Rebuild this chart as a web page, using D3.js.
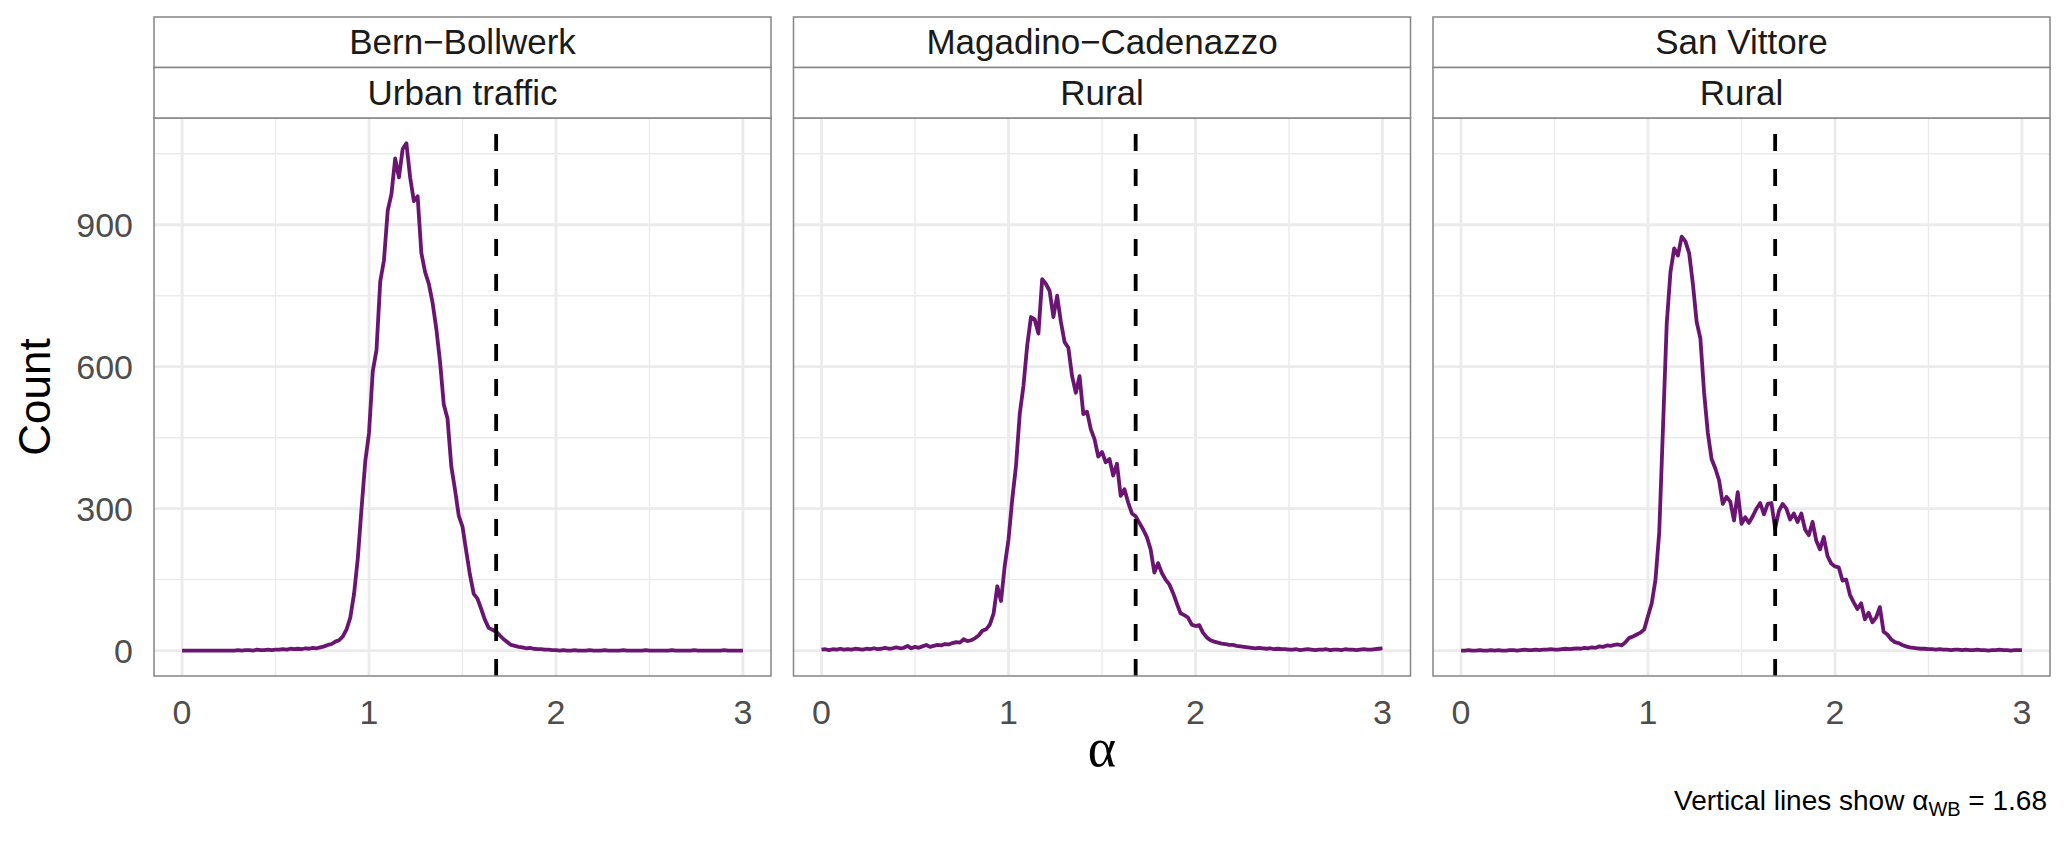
<!DOCTYPE html>
<meta charset="utf-8">
<script src="https://d3js.org/d3.v7.min.js"></script>

<style>
body {margin: 0; background: white;}
svg {font-family: "Liberation Sans", Arial, sans-serif;}
.grid line {stroke: #ebebeb;}
.grid .major {stroke-width: 2.8px;}
.grid .minor {stroke-width: 1.4px;}
.frame {fill: none; stroke: #858585; stroke-width: 1.5px;}
.strip text {font-size: 35px; fill: #1a1a1a; text-anchor: middle;}
.tick-label {font-size: 34px; fill: #4d4d4d;}
.curve {fill: none; stroke: #6a1571; stroke-width: 3.8px; stroke-linejoin: round;}
.vline {stroke: black; stroke-width: 3.8px; stroke-dasharray: 17,18;}
</style>

<svg width="2067" height="843"></svg>

<script>
// stations and site types shown in the two strip rows
var stations = ["Bern\u2212Bollwerk", "Magadino\u2212Cadenazzo", "San Vittore"];
var siteTypes = ["Urban traffic", "Rural", "Rural"];

// bin centres of the alpha counts, 0 to 3 in steps of 0.02
var alphaBins = d3.range(151).map(function(i) { return i / 50; });

var countsBern = [
  0,0,0,0,0,0,0,0,0,0,0,0,0,0,0,
  1,0,1,1,0,2,1,1,2,1,2,
  2,3,2,4,3,4,3,5,4,6, 5,7,9,12,14,19,22,30,45,70, 120,195,300,400,
  460,590,635,780,825,930,965,1040,1000,1060, 1072,1000,950,960,840,800,775,735,680,610, 520,490,390,340,285,
  262,210,160,120,110,88,65,48,44,40, 32,24,18,12,10,8,7,5,6,4, 3,3,2,2,1,1,
  0,1,0,0,1,0,0,0,1,0, 0,0,1,0,0,0,0,1,0,0, 0,0,0,1,0,0,0,0,0,0, 1,0,0,0,0,0,1,0,0,0, 0,0,0,0,1,0,0,0,0,0
];

var countsMagadino = [
  2,3,1,3,2,4,2,3,2,4, 3,2,4,3,5,3,4,6,4,5, 7,5,6,10,5,8,
  6,9,12,8,10,12,11,14,13,16, 18,17,24,20,22,26,32,42,45,55, 78,136,105,180,
  235,320,390,500,560,645,705,700,670,785, 775,760,705,750,695,652,640,580,545,580, 500,505,468,447,410,
  420,398,405,370,395,327,341,313,290,284, 270,256,240,214,165,185,164,150,140,122, 100,79,75,70,55,52,
  54,38,28,22,19,17,15,14,12,12, 10,9,8,7,6,5,6,5,4,5, 3,4,3,3,2,
  2,3,1,2,3,2,1,2,2,3, 1,2,2,1,3,2,2,1,2,3, 2,2,3,4,5
];

var countsSanVittore = [
  0,0,1,0,0,1,0,0,1,0, 1,0,0,1,1,0,1,2,1,1, 2,1,2,2,3,2,
  2,3,4,3,4,5,4,6,5,7, 6,9,8,11,10,12,13,11,18,27, 30,34,38,45,
  73,100,150,250,470,690,800,850,835,875, 865,840,775,695,660,545,460,405,385,360, 310,325,315,275,335,
  268,282,270,284,300,312,288,310,312,258, 295,310,300,277,290,272,290,256,244,272, 232,214,240,200,184,178,
  176,148,150,118,102,88,100,66,80,60, 70,92,40,34,24,18,16,12,9,7, 6,5,4,4,3,
  3,2,3,2,2,1,2,2,1,2, 1,1,2,1,1,0,1,1,2,1, 1,0,1,1,1
];

var seriesCounts = [countsBern, countsMagadino, countsSanVittore];

var alphaWB = 1.68;
var xMajor = [0, 1, 2, 3], xMinor = [0.5, 1.5, 2.5];
var yMajor = [0, 300, 600, 900], yMinor = [150, 450, 750, 1050];

var svg = d3.select("svg");

var panelLeft = 154, panelW = 617, panelGap = 22.5;
var stripTop = 17, stripH = 50.5;
var plotTop = stripTop + 2 * stripH, plotBottom = 676;

var yMax = d3.max(seriesCounts, function(s) { return d3.max(s); });
var y = d3.scaleLinear()
    .domain([-0.05 * yMax, 1.05 * yMax])
    .range([plotBottom, plotTop]);

var line = d3.line();

stations.forEach(function(name, i) {
  var x0 = panelLeft + i * (panelW + panelGap);
  var x = d3.scaleLinear()
      .domain([-0.15, 3.15])
      .range([x0, x0 + panelW]);

  var g = svg.append("g");

  var grid = g.append("g").attr("class", "grid");
  grid.selectAll(".ym").data(yMinor).enter().append("line")
      .attr("class", "minor")
      .attr("x1", x0).attr("x2", x0 + panelW)
      .attr("y1", y).attr("y2", y);
  grid.selectAll(".xm").data(xMinor).enter().append("line")
      .attr("class", "minor")
      .attr("x1", x).attr("x2", x)
      .attr("y1", plotTop).attr("y2", plotBottom);
  grid.selectAll(".yM").data(yMajor).enter().append("line")
      .attr("class", "major")
      .attr("x1", x0).attr("x2", x0 + panelW)
      .attr("y1", y).attr("y2", y);
  grid.selectAll(".xM").data(xMajor).enter().append("line")
      .attr("class", "major")
      .attr("x1", x).attr("x2", x)
      .attr("y1", plotTop).attr("y2", plotBottom);

  var pts = alphaBins.map(function(a, k) { return [x(a), y(seriesCounts[i][k])]; });
  g.append("path")
      .attr("class", "curve")
      .attr("d", line(pts));

  g.append("line")
      .attr("class", "vline")
      .attr("x1", x(alphaWB)).attr("x2", x(alphaWB))
      .attr("y1", plotBottom).attr("y2", plotTop);

  g.append("rect")
      .attr("class", "frame")
      .attr("x", x0).attr("y", plotTop)
      .attr("width", panelW).attr("height", plotBottom - plotTop);

  // two strip rows
  var strip = g.append("g").attr("class", "strip");
  [name, siteTypes[i]].forEach(function(label, r) {
    strip.append("rect")
        .attr("class", "frame")
        .attr("x", x0).attr("y", stripTop + r * stripH)
        .attr("width", panelW).attr("height", stripH)
        .style("fill", "white");
    strip.append("text")
        .attr("x", x0 + panelW / 2)
        .attr("y", stripTop + r * stripH + stripH / 2 + 12)
        .text(label);
  });

  g.selectAll(".xt").data(xMajor).enter().append("text")
      .attr("class", "tick-label")
      .attr("x", x)
      .attr("y", 724)
      .attr("text-anchor", "middle")
      .text(function(d) { return d; });

  if (i === 0) {
    g.selectAll(".yt").data(yMajor).enter().append("text")
        .attr("class", "tick-label")
        .attr("x", 133)
        .attr("y", function(d) { return y(d) + 12; })
        .attr("text-anchor", "end")
        .text(function(d) { return d; });
  }
});

svg.append("text")
    .attr("transform", "translate(50," + (plotTop + plotBottom) / 2 + ") rotate(-90)")
    .attr("text-anchor", "middle")
    .style("font-size", "44px")
    .style("fill", "black")
    .text("Count");

svg.append("text")
    .attr("x", (panelLeft + panelLeft + 3 * panelW + 2 * panelGap) / 2)
    .attr("y", 766)
    .attr("text-anchor", "middle")
    .style("font-family", "'Liberation Serif', 'DejaVu Serif', serif")
    .style("font-size", "54px")
    .style("fill", "black")
    .text("\u03b1");

var cap = svg.append("text")
    .attr("x", 2047)
    .attr("y", 810)
    .attr("text-anchor", "end")
    .style("font-size", "28px")
    .style("fill", "black");
cap.append("tspan").text("Vertical lines show \u03b1");
cap.append("tspan").attr("dy", 6).style("font-size", "20px").text("WB");
cap.append("tspan").attr("dy", -6).text(" = " + alphaWB.toFixed(2));
</script>
